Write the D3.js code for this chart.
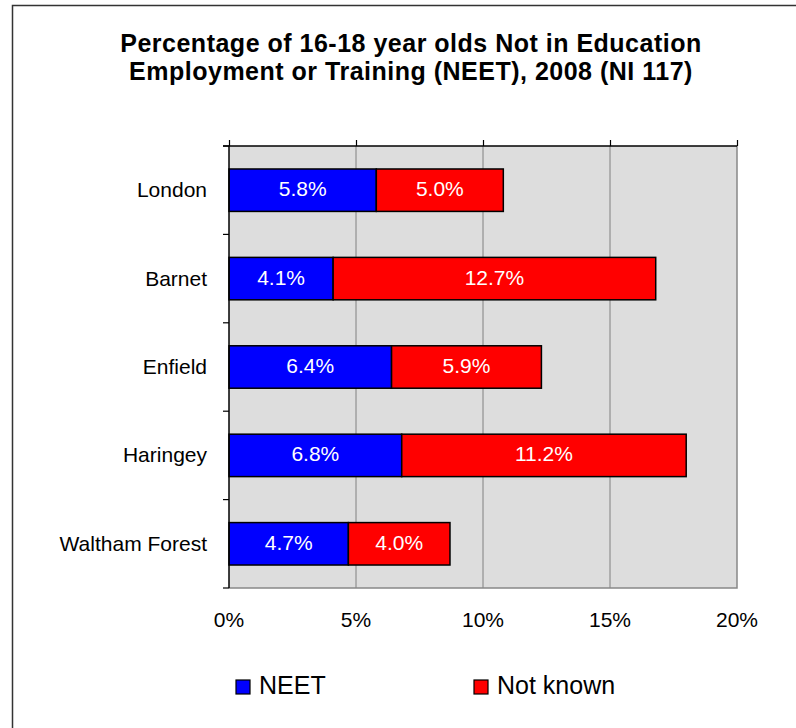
<!DOCTYPE html>
<html>
<head>
<meta charset="utf-8">
<title>NEET 2008</title>
<script src="https://d3js.org/d3.v7.min.js"></script>
<style>
  body { margin: 0; background: #fff; }
  svg text { font-family: "Liberation Sans", Arial, sans-serif; }
</style>
</head>
<body>
<div id="chart"></div>
<script>
// data
const areas = ["London", "Barnet", "Enfield", "Haringey", "Waltham Forest"];
const neet = [5.8, 4.1, 6.4, 6.8, 4.7];
const notKnown = [5.0, 12.7, 5.9, 11.2, 4.0];
const xTicks = [0, 5, 10, 15, 20];
const seriesNames = ["NEET", "Not known"];
const seriesColors = ["#0000ff", "#ff0000"];
const titleLines = [
  "Percentage of 16-18 year olds Not in Education",
  "Employment or Training (NEET), 2008 (NI 117)"
];

const W = 796, H = 728;
const svg = d3.select("#chart").append("svg")
    .attr("width", W)
    .attr("height", H);

// outer frame (runs off the right and bottom of the window)
svg.append("rect")
    .attr("x", 12.5).attr("y", 5.5)
    .attr("width", 820).attr("height", 800)
    .attr("fill", "#fff")
    .attr("stroke", "#333")
    .attr("stroke-width", 1.5);

// title
svg.append("g").selectAll("text")
    .data(titleLines)
    .join("text")
    .attr("x", 411)
    .attr("y", (d, i) => 52 + i * 28)
    .attr("text-anchor", "middle")
    .attr("font-size", 25)
    .attr("font-weight", "bold")
    .attr("letter-spacing", 0.5)
    .text(d => d);

const x = d3.scaleLinear().domain([0, 20]).range([229, 737]);
const y = d3.scaleBand().domain(areas).range([146, 588])
    .paddingInner(0.52).paddingOuter(0.26);

// plot area
svg.append("rect")
    .attr("x", x(0)).attr("y", 146)
    .attr("width", x(20) - x(0)).attr("height", 588 - 146)
    .attr("fill", "#dddddd");

// gridlines
svg.append("g").selectAll("line")
    .data(xTicks.slice(1, -1))
    .join("line")
    .attr("x1", d => x(d)).attr("x2", d => x(d))
    .attr("y1", 146).attr("y2", 588)
    .attr("stroke", "#808080")
    .attr("stroke-width", 1);

// right + bottom plot border
svg.append("path")
    .attr("d", `M${x(20)},146V588H${x(0)}`)
    .attr("fill", "none")
    .attr("stroke", "#888")
    .attr("stroke-width", 1.5);

// stacked bars
const rows = areas.map((a, i) => ({ area: a, vals: [neet[i], notKnown[i]] }));
const segs = [];
rows.forEach(r => {
  let x0 = 0;
  r.vals.forEach((v, k) => {
    segs.push({ area: r.area, k: k, x0: x0, x1: x0 + v, v: v });
    x0 += v;
  });
});

svg.append("g").selectAll("rect")
    .data(segs)
    .join("rect")
    .attr("x", d => x(d.x0))
    .attr("y", d => y(d.area))
    .attr("width", d => x(d.x1) - x(d.x0))
    .attr("height", y.bandwidth())
    .attr("fill", d => seriesColors[d.k])
    .attr("stroke", "#000")
    .attr("stroke-width", 1.5);

svg.append("g").selectAll("text")
    .data(segs)
    .join("text")
    .attr("x", d => (x(d.x0) + x(d.x1)) / 2)
    .attr("y", d => y(d.area) + y.bandwidth() / 2 + 6)
    .attr("text-anchor", "middle")
    .attr("font-size", 21)
    .attr("fill", "#fff")
    .text(d => d.v.toFixed(1) + "%");

// top axis line with upward ticks
const topAxis = d3.axisTop(x).tickValues(xTicks).tickSize(6).tickFormat("");
svg.append("g")
    .attr("transform", "translate(0,146)")
    .call(topAxis)
    .call(g => g.select(".domain").attr("d", `M${x(0) - 6},0H${x(20)}`).attr("stroke-width", 1.5))
    .call(g => g.selectAll(".tick line").attr("stroke-width", 1.2));

// x tick labels below the plot
svg.append("g").selectAll("text")
    .data(xTicks)
    .join("text")
    .attr("x", d => x(d))
    .attr("y", 627)
    .attr("text-anchor", "middle")
    .attr("font-size", 21)
    .attr("fill", "#000")
    .text(d => d + "%");

// left category axis
const bounds = d3.range(areas.length + 1).map(i => 146 + i * y.step());
const yAxisG = svg.append("g");
yAxisG.append("line")
    .attr("x1", x(0)).attr("x2", x(0))
    .attr("y1", 146).attr("y2", 588)
    .attr("stroke", "#000").attr("stroke-width", 1.5);
yAxisG.selectAll("line.tk")
    .data(bounds)
    .join("line")
    .attr("class", "tk")
    .attr("x1", x(0) - 6).attr("x2", x(0))
    .attr("y1", d => d).attr("y2", d => d)
    .attr("stroke", "#000").attr("stroke-width", 1.2);
yAxisG.selectAll("text")
    .data(areas)
    .join("text")
    .attr("x", 207)
    .attr("y", d => y(d) + y.bandwidth() / 2 + 7)
    .attr("text-anchor", "end")
    .attr("font-size", 21)
    .attr("fill", "#000")
    .text(d => d);

// legend
const legendX = [236, 474];
const leg = svg.append("g").selectAll("g")
    .data(seriesNames)
    .join("g")
    .attr("transform", (d, i) => `translate(${legendX[i]},680)`);
leg.append("rect")
    .attr("width", 14).attr("height", 14)
    .attr("fill", (d, i) => seriesColors[i])
    .attr("stroke", "#000").attr("stroke-width", 1.2);
leg.append("text")
    .attr("x", 23).attr("y", 14)
    .attr("font-size", 25)
    .attr("fill", "#000")
    .text(d => d);
</script>
</body>
</html>
